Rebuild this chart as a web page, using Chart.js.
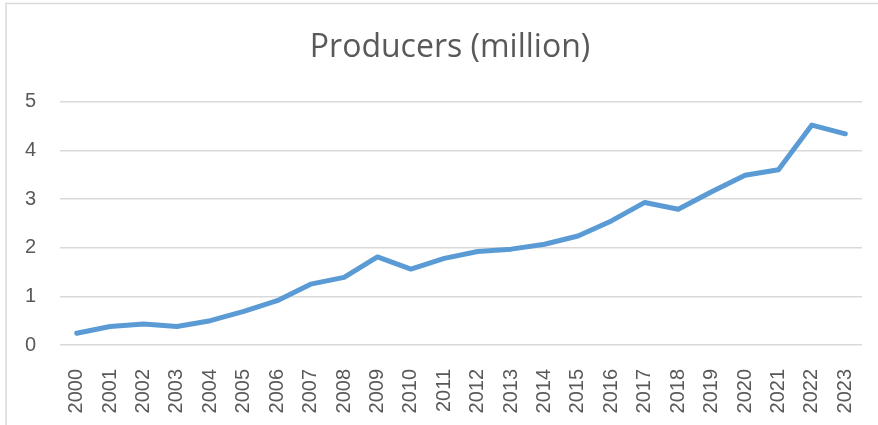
<!DOCTYPE html>
<html lang="en">
<head>
<meta charset="UTF-8">
<title>Producers (million)</title>
<script src="https://cdn.jsdelivr.net/npm/chart.js"></script>
<style>
  html, body { margin: 0; padding: 0; background: #fff; }
  #wrap { position: relative; width: 878px; height: 425px; }
</style>
</head>
<body>
<div id="wrap"><canvas id="myChart" width="878" height="425"></canvas></div>
<script>
  // yearly values
  var years = ['2000', '2001', '2002', '2003', '2004', '2005', '2006', '2007', '2008', '2009', '2010', '2011',
               '2012', '2013', '2014', '2015', '2016', '2017', '2018', '2019', '2020', '2021', '2022', '2023'];
  var producers = [0.24, 0.38, 0.43, 0.38, 0.50, 0.69, 0.91, 1.25, 1.39, 1.81, 1.56, 1.78,
                   1.92, 1.97, 2.07, 2.24, 2.55, 2.93, 2.79, 3.15, 3.49, 3.60, 4.52, 4.34];
  var yTicks = [0, 1, 2, 3, 4, 5];
  var chartTitle = 'Producers (million)';

  // thin frame around the chart (open on the right and bottom) and the title
  var frame = {
    id: 'frame',
    beforeDraw: function (chart) {
      var c = chart.ctx;
      c.save();
      c.strokeStyle = '#d9d9d9';
      c.lineWidth = 1.5;
      c.beginPath();
      c.moveTo(6, 425);
      c.lineTo(6, 3.5);
      c.lineTo(878, 3.5);
      c.stroke();

      c.fillStyle = '#595959';
      c.font = '32px "Open Sans"';
      c.textAlign = 'center';
      c.textBaseline = 'alphabetic';
      c.fillText(chartTitle, 450, 57);
      c.restore();
    }
  };

  var ctx = document.getElementById('myChart').getContext('2d');
  var myChart = new Chart(ctx, {
    type: 'line',
    data: {
      labels: years,
      datasets: [{
        data: producers,
        borderColor: '#5b9bd5',
        borderWidth: 5,
        borderCapStyle: 'round',
        borderJoinStyle: 'round',
        pointRadius: 0,
        tension: 0,
        fill: false
      }]
    },
    options: {
      responsive: false,
      animation: false,
      layout: { padding: { top: 101.7, right: 16, left: 0, bottom: 0 } },
      plugins: {
        legend: { display: false },
        tooltip: { enabled: false },
        title: { display: false }
      },
      scales: {
        x: {
          offset: true,
          grid: { display: false },
          border: { display: false },
          ticks: {
            color: '#595959',
            font: { family: 'Liberation Sans', size: 20 },
            minRotation: 90,
            maxRotation: 90,
            autoSkip: false,
            padding: 16
          },
          afterFit: function (scale) {
            scale.height = 80;
            // labels hang straight down, no side padding needed
            scale.paddingLeft = 0;
            scale.paddingRight = 0;
          }
        },
        y: {
          min: 0,
          max: 5,
          afterBuildTicks: function (scale) {
            scale.ticks = yTicks.map(function (v) { return { value: v }; });
          },
          grid: { color: '#d9d9d9', lineWidth: 1.5, drawTicks: false },
          border: { display: false },
          ticks: {
            color: '#595959',
            font: { family: 'Liberation Sans', size: 20 },
            padding: 24
          },
          afterFit: function (scale) { scale.width = 60; }
        }
      }
    },
    plugins: [frame]
  });
</script>
</body>
</html>
